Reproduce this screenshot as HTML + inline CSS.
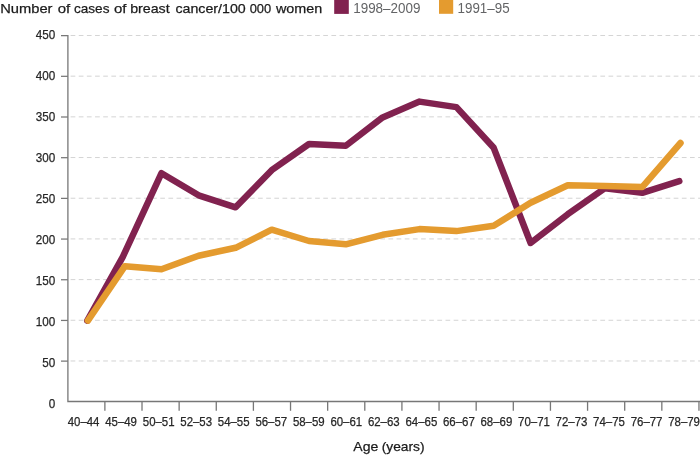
<!DOCTYPE html>
<html lang="en"><head><meta charset="utf-8"><title>Breast cancer cases by age</title>
<style>
html,body{margin:0;padding:0;background:#fff;}
body{width:700px;height:455px;overflow:hidden;}
svg{display:block;font-family:"Liberation Sans",Arial,sans-serif;}
.t{stroke-width:0.25;paint-order:stroke;}
</style></head><body>
<svg width="700" height="455" viewBox="0 0 700 455">
<rect width="700" height="455" fill="#fff"/>
<line x1="70.6" x2="700" y1="360.97" y2="360.97" stroke="#c6c6c6" stroke-width="0.75" stroke-dasharray="4.7 3.45"/>
<line x1="61" x2="67.9" y1="361.12" y2="361.12" stroke="#777777" stroke-width="1.25"/>
<line x1="70.6" x2="700" y1="320.28" y2="320.28" stroke="#c6c6c6" stroke-width="0.75" stroke-dasharray="4.7 3.45"/>
<line x1="61" x2="67.9" y1="320.43" y2="320.43" stroke="#777777" stroke-width="1.25"/>
<line x1="70.6" x2="700" y1="279.60" y2="279.60" stroke="#c6c6c6" stroke-width="0.75" stroke-dasharray="4.7 3.45"/>
<line x1="61" x2="67.9" y1="279.75" y2="279.75" stroke="#777777" stroke-width="1.25"/>
<line x1="70.6" x2="700" y1="238.91" y2="238.91" stroke="#c6c6c6" stroke-width="0.75" stroke-dasharray="4.7 3.45"/>
<line x1="61" x2="67.9" y1="239.06" y2="239.06" stroke="#777777" stroke-width="1.25"/>
<line x1="70.6" x2="700" y1="198.23" y2="198.23" stroke="#c6c6c6" stroke-width="0.75" stroke-dasharray="4.7 3.45"/>
<line x1="61" x2="67.9" y1="198.38" y2="198.38" stroke="#777777" stroke-width="1.25"/>
<line x1="70.6" x2="700" y1="157.54" y2="157.54" stroke="#c6c6c6" stroke-width="0.75" stroke-dasharray="4.7 3.45"/>
<line x1="61" x2="67.9" y1="157.69" y2="157.69" stroke="#777777" stroke-width="1.25"/>
<line x1="70.6" x2="700" y1="116.85" y2="116.85" stroke="#c6c6c6" stroke-width="0.75" stroke-dasharray="4.7 3.45"/>
<line x1="61" x2="67.9" y1="117.00" y2="117.00" stroke="#777777" stroke-width="1.25"/>
<line x1="70.6" x2="700" y1="76.17" y2="76.17" stroke="#c6c6c6" stroke-width="0.75" stroke-dasharray="4.7 3.45"/>
<line x1="61" x2="67.9" y1="76.32" y2="76.32" stroke="#777777" stroke-width="1.25"/>
<line x1="70.6" x2="700" y1="35.49" y2="35.49" stroke="#c6c6c6" stroke-width="0.75" stroke-dasharray="4.7 3.45"/>
<line x1="61" x2="67.9" y1="35.64" y2="35.64" stroke="#777777" stroke-width="1.25"/>
<path d="M67.9,35.04 V401.5 H700" fill="none" stroke="#777777" stroke-width="1.3"/>
<line x1="104.88" x2="104.88" y1="401.5" y2="410.8" stroke="#777777" stroke-width="1.3"/>
<line x1="142.01" x2="142.01" y1="401.5" y2="410.8" stroke="#777777" stroke-width="1.3"/>
<line x1="179.14" x2="179.14" y1="401.5" y2="410.8" stroke="#777777" stroke-width="1.3"/>
<line x1="216.27" x2="216.27" y1="401.5" y2="410.8" stroke="#777777" stroke-width="1.3"/>
<line x1="253.40" x2="253.40" y1="401.5" y2="410.8" stroke="#777777" stroke-width="1.3"/>
<line x1="290.53" x2="290.53" y1="401.5" y2="410.8" stroke="#777777" stroke-width="1.3"/>
<line x1="327.66" x2="327.66" y1="401.5" y2="410.8" stroke="#777777" stroke-width="1.3"/>
<line x1="364.79" x2="364.79" y1="401.5" y2="410.8" stroke="#777777" stroke-width="1.3"/>
<line x1="401.92" x2="401.92" y1="401.5" y2="410.8" stroke="#777777" stroke-width="1.3"/>
<line x1="439.05" x2="439.05" y1="401.5" y2="410.8" stroke="#777777" stroke-width="1.3"/>
<line x1="476.18" x2="476.18" y1="401.5" y2="410.8" stroke="#777777" stroke-width="1.3"/>
<line x1="513.31" x2="513.31" y1="401.5" y2="410.8" stroke="#777777" stroke-width="1.3"/>
<line x1="550.44" x2="550.44" y1="401.5" y2="410.8" stroke="#777777" stroke-width="1.3"/>
<line x1="587.57" x2="587.57" y1="401.5" y2="410.8" stroke="#777777" stroke-width="1.3"/>
<line x1="624.70" x2="624.70" y1="401.5" y2="410.8" stroke="#777777" stroke-width="1.3"/>
<line x1="661.83" x2="661.83" y1="401.5" y2="410.8" stroke="#777777" stroke-width="1.3"/>
<line x1="698.96" x2="698.96" y1="401.5" y2="410.8" stroke="#777777" stroke-width="1.3"/>
<text class="t" x="55.2" y="408.1" text-anchor="end" font-size="12.7" fill="#262626" stroke="#262626" textLength="6.5" lengthAdjust="spacingAndGlyphs">0</text>
<text class="t" x="55.2" y="367.1" text-anchor="end" font-size="12.7" fill="#262626" stroke="#262626" textLength="13.0" lengthAdjust="spacingAndGlyphs">50</text>
<text class="t" x="55.2" y="326.1" text-anchor="end" font-size="12.7" fill="#262626" stroke="#262626" textLength="19.5" lengthAdjust="spacingAndGlyphs">100</text>
<text class="t" x="55.2" y="285.1" text-anchor="end" font-size="12.7" fill="#262626" stroke="#262626" textLength="19.5" lengthAdjust="spacingAndGlyphs">150</text>
<text class="t" x="55.2" y="244.0" text-anchor="end" font-size="12.7" fill="#262626" stroke="#262626" textLength="19.5" lengthAdjust="spacingAndGlyphs">200</text>
<text class="t" x="55.2" y="203.0" text-anchor="end" font-size="12.7" fill="#262626" stroke="#262626" textLength="19.5" lengthAdjust="spacingAndGlyphs">250</text>
<text class="t" x="55.2" y="162.0" text-anchor="end" font-size="12.7" fill="#262626" stroke="#262626" textLength="19.5" lengthAdjust="spacingAndGlyphs">300</text>
<text class="t" x="55.2" y="121.0" text-anchor="end" font-size="12.7" fill="#262626" stroke="#262626" textLength="19.5" lengthAdjust="spacingAndGlyphs">350</text>
<text class="t" x="55.2" y="80.0" text-anchor="end" font-size="12.7" fill="#262626" stroke="#262626" textLength="19.5" lengthAdjust="spacingAndGlyphs">400</text>
<text class="t" x="55.2" y="39.0" text-anchor="end" font-size="12.7" fill="#262626" stroke="#262626" textLength="19.5" lengthAdjust="spacingAndGlyphs">450</text>
<text class="t" x="67.7" y="425.8" font-size="12.5" fill="#262626" stroke="#262626" textLength="31.8" lengthAdjust="spacingAndGlyphs">40–44</text>
<text class="t" x="105.2" y="425.8" font-size="12.5" fill="#262626" stroke="#262626" textLength="31.8" lengthAdjust="spacingAndGlyphs">45–49</text>
<text class="t" x="142.8" y="425.8" font-size="12.5" fill="#262626" stroke="#262626" textLength="31.8" lengthAdjust="spacingAndGlyphs">50–51</text>
<text class="t" x="180.3" y="425.8" font-size="12.5" fill="#262626" stroke="#262626" textLength="31.8" lengthAdjust="spacingAndGlyphs">52–53</text>
<text class="t" x="217.8" y="425.8" font-size="12.5" fill="#262626" stroke="#262626" textLength="31.8" lengthAdjust="spacingAndGlyphs">54–55</text>
<text class="t" x="255.4" y="425.8" font-size="12.5" fill="#262626" stroke="#262626" textLength="31.8" lengthAdjust="spacingAndGlyphs">56–57</text>
<text class="t" x="292.9" y="425.8" font-size="12.5" fill="#262626" stroke="#262626" textLength="31.8" lengthAdjust="spacingAndGlyphs">58–59</text>
<text class="t" x="330.4" y="425.8" font-size="12.5" fill="#262626" stroke="#262626" textLength="31.8" lengthAdjust="spacingAndGlyphs">60–61</text>
<text class="t" x="367.9" y="425.8" font-size="12.5" fill="#262626" stroke="#262626" textLength="31.8" lengthAdjust="spacingAndGlyphs">62–63</text>
<text class="t" x="405.5" y="425.8" font-size="12.5" fill="#262626" stroke="#262626" textLength="31.8" lengthAdjust="spacingAndGlyphs">64–65</text>
<text class="t" x="443.0" y="425.8" font-size="12.5" fill="#262626" stroke="#262626" textLength="31.8" lengthAdjust="spacingAndGlyphs">66–67</text>
<text class="t" x="480.5" y="425.8" font-size="12.5" fill="#262626" stroke="#262626" textLength="31.8" lengthAdjust="spacingAndGlyphs">68–69</text>
<text class="t" x="518.1" y="425.8" font-size="12.5" fill="#262626" stroke="#262626" textLength="31.8" lengthAdjust="spacingAndGlyphs">70–71</text>
<text class="t" x="555.6" y="425.8" font-size="12.5" fill="#262626" stroke="#262626" textLength="31.8" lengthAdjust="spacingAndGlyphs">72–73</text>
<text class="t" x="593.1" y="425.8" font-size="12.5" fill="#262626" stroke="#262626" textLength="31.8" lengthAdjust="spacingAndGlyphs">74–75</text>
<text class="t" x="630.7" y="425.8" font-size="12.5" fill="#262626" stroke="#262626" textLength="31.8" lengthAdjust="spacingAndGlyphs">76–77</text>
<text class="t" x="668.2" y="425.8" font-size="12.5" fill="#262626" stroke="#262626" textLength="31.8" lengthAdjust="spacingAndGlyphs">78–79</text>
<polyline points="87.3,320.6 122.8,256.8 161.5,173.2 198.6,195.3 235.6,207.3 271.7,170.2 309.0,144.0 345.8,145.8 382.6,117.4 419.5,101.6 456.4,107.1 493.7,147.8 530.6,243.0 567.8,214.2 605.0,188.2 642.2,192.8 679.3,181.2" fill="none" stroke="#81224f" stroke-width="6.5" stroke-linecap="round" stroke-linejoin="round"/>
<polyline points="87.9,320.6 124.9,266.2 161.5,269.3 198.6,255.7 235.6,247.8 271.7,229.7 309.0,241.0 345.8,244.3 382.6,234.8 419.5,229.1 456.4,231.1 493.7,225.8 530.6,202.8 567.8,185.2 605.0,186.1 642.2,187.1 680.5,143.0" fill="none" stroke="#e49b2f" stroke-width="6.5" stroke-linecap="round" stroke-linejoin="round"/>
<text class="t" y="13.2" font-size="13.5" fill="#1a1a1a" stroke="#1a1a1a"><tspan x="0.25" textLength="52.25" lengthAdjust="spacingAndGlyphs">Number</tspan> <tspan x="57.70" textLength="12.50" lengthAdjust="spacingAndGlyphs">of</tspan> <tspan x="73.95" textLength="35.50" lengthAdjust="spacingAndGlyphs">cases</tspan> <tspan x="113.95" textLength="12.50" lengthAdjust="spacingAndGlyphs">of</tspan> <tspan x="130.20" textLength="39.50" lengthAdjust="spacingAndGlyphs">breast</tspan> <tspan x="175.45" textLength="70.25" lengthAdjust="spacingAndGlyphs">cancer/100</tspan> <tspan x="249.70" textLength="21.50" lengthAdjust="spacingAndGlyphs">000</tspan> <tspan x="275.95" textLength="46.25" lengthAdjust="spacingAndGlyphs">women</tspan></text>
<rect x="334.2" y="0" width="14.6" height="13.9" fill="#81224f"/>
<text x="353.2" y="13.2" font-size="14" fill="#636466" textLength="67.3" lengthAdjust="spacingAndGlyphs">1998–2009</text>
<rect x="439" y="0" width="14.2" height="13.8" fill="#e49b2f"/>
<text x="457.6" y="13.2" font-size="14" fill="#636466" textLength="52" lengthAdjust="spacingAndGlyphs">1991–95</text>
<text class="t" y="450.6" font-size="13.5" fill="#1a1a1a" stroke="#1a1a1a"><tspan x="353.3" textLength="25" lengthAdjust="spacingAndGlyphs">Age</tspan> <tspan x="381.7" textLength="42.9" lengthAdjust="spacingAndGlyphs">(years)</tspan></text>
</svg></body></html>
